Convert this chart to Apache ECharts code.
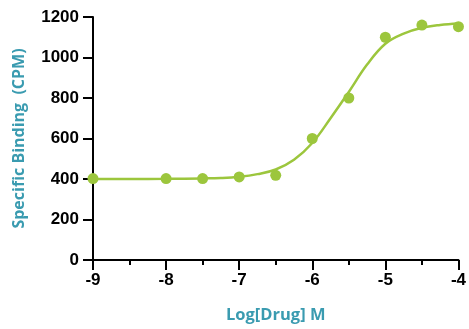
<!DOCTYPE html>
<html><head><meta charset="utf-8">
<script src="https://cdn.jsdelivr.net/npm/echarts@6/dist/echarts.min.js"></script>
<style>html,body{margin:0;padding:0;background:#fff}#c{width:469px;height:329px}</style>
</head><body><div id="c"></div>
<script>
// measured data points (log concentration, CPM)
const logDose = [-9, -8, -7.5, -7, -6.5, -6, -5.5, -5, -4.5, -4];
const binding = [402, 402, 402, 410, 418, 600, 800, 1100, 1160, 1152];
// fitted curve
const curveX = [-9, -8.5, -8, -7.5, -7.25, -7, -6.75, -6.5, -6.25, -6, -5.75, -5.5, -5.25, -5, -4.75, -4.5, -4.25, -4];
const curveY = [400, 400, 401, 403, 405, 411, 424, 447, 495, 578, 700, 830, 965, 1068, 1118, 1147, 1161, 1168];
const xTicks = [-9, -8, -7, -6, -5, -4];
const yTicks = [0, 200, 400, 600, 800, 1000, 1200];

const green = '#9cc63d';
const teal = '#3a9bb0';
const chart = echarts.init(document.getElementById('c'), null, {renderer: 'canvas'});
chart.setOption({
  animation: false,
  grid: {left: 93, right: 8, top: 17, bottom: 67},
  xAxis: {
    type: 'value', min: xTicks[0], max: xTicks[xTicks.length - 1], interval: 1,
    name: 'Log[Drug] M', nameLocation: 'middle', nameGap: 47,
    nameTextStyle: {color: teal, fontFamily: 'Open Sans', fontWeight: 'bold', fontSize: 16.5},
    axisLine: {onZero: false, lineStyle: {color: '#000', width: 2}},
    axisTick: {length: 10, lineStyle: {color: '#000', width: 2}},
    minorTick: {show: true, splitNumber: 2, length: 5, lineStyle: {color: '#000', width: 2}},
    splitLine: {show: false},
    axisLabel: {color: '#000', fontFamily: 'Liberation Sans', fontWeight: 'bold', fontSize: 17, margin: 12,
                formatter: v => String(v)}
  },
  yAxis: {
    type: 'value', min: yTicks[0], max: yTicks[yTicks.length - 1], interval: 200,
    name: 'Specific Binding  (CPM)', nameLocation: 'middle', nameGap: 66, nameRotate: 90,
    nameTextStyle: {color: teal, fontFamily: 'Open Sans', fontWeight: 'bold', fontSize: 16},
    axisLine: {show: true, onZero: false, lineStyle: {color: '#000', width: 2}},
    axisTick: {show: true, inside: false, length: 10, lineStyle: {color: '#000', width: 2}},
    splitLine: {show: false},
    axisLabel: {color: '#000', fontFamily: 'Liberation Sans', fontWeight: 'bold', fontSize: 17, margin: 14,
                formatter: v => String(v)}
  },
  series: [
    {type: 'line', data: curveX.map((x, i) => [x, curveY[i]]), smooth: 0.4, showSymbol: false,
     lineStyle: {color: green, width: 2.5}, z: 2, silent: true},
    {type: 'scatter', data: logDose.map((x, i) => [x, binding[i]]), symbolSize: 11,
     itemStyle: {color: green, opacity: 1}, z: 3, clip: false}
  ]
});
</script></body></html>
